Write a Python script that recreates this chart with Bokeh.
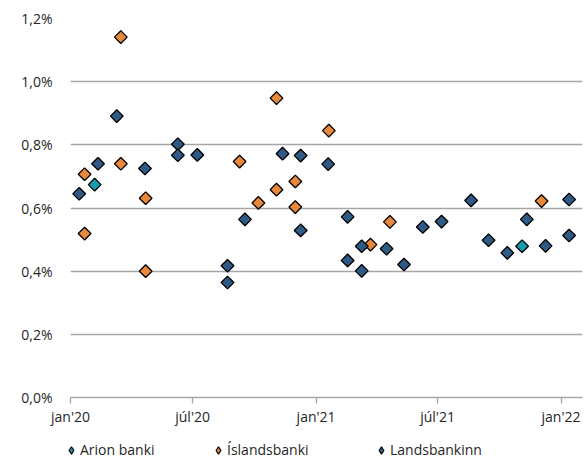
import numpy as np
import pandas as pd
from bokeh.plotting import figure
from bokeh.layouts import column
from bokeh.models import (ColumnDataSource, Legend, LegendItem, FixedTicker,
                          CustomJSTickFormatter, Range1d)
from bokeh.embed import file_html
from bokeh.resources import INLINE

# ---- data ----
arion_dates = ["2020-02-06", "2021-11-04"]
arion_vals = [0.674, 0.479]

isl_dates = ["2020-01-22", "2020-01-22", "2020-03-16", "2020-03-16", "2020-04-22", "2020-04-22",
             "2020-09-09", "2020-10-07", "2020-11-03", "2020-11-03", "2020-12-01", "2020-12-01",
             "2021-01-20", "2021-03-23", "2021-04-21", "2021-12-03"]
isl_vals = [0.707, 0.519, 1.141, 0.740, 0.631, 0.400,
            0.747, 0.616, 0.948, 0.658, 0.684, 0.603,
            0.845, 0.484, 0.556, 0.622]

lands_dates = ["2020-01-14", "2020-02-11", "2020-03-10", "2020-04-21", "2020-06-09", "2020-06-09",
               "2020-07-08", "2020-08-22", "2020-08-22", "2020-09-17", "2020-11-12", "2020-12-09",
               "2020-12-09", "2021-01-19", "2021-02-17", "2021-02-17", "2021-03-10", "2021-03-10",
               "2021-04-16", "2021-05-12", "2021-06-09", "2021-07-07", "2021-08-20", "2021-09-15",
               "2021-10-13", "2021-11-11", "2021-12-09", "2022-01-13", "2022-01-13"]
lands_vals = [0.645, 0.740, 0.891, 0.725, 0.802, 0.767,
              0.768, 0.417, 0.364, 0.564, 0.772, 0.766,
              0.529, 0.739, 0.572, 0.434, 0.479, 0.401,
              0.471, 0.421, 0.540, 0.557, 0.624, 0.498,
              0.458, 0.564, 0.480, 0.627, 0.513]

series_names = ["Arion banki", "Íslandsbanki", "Landsbankinn"]
series_colors = ["#1A9BAB", "#E8883B", "#2F5A84"]
x_ticks = ["2020-01-01", "2020-07-01", "2021-01-01", "2021-07-01", "2022-01-01"]
x_tick_labels = ["jan'20", "júl'20", "jan'21", "júl'21", "jan'22"]
y_ticks = [0.0, 0.2, 0.4, 0.6, 0.8, 1.0, 1.2]

FONT = "Open Sans"
TEXT_COLOR = "#262626"
GRID_COLOR = "#A6A6A6"

def ms(d):
    return pd.Timestamp(d).value / 1e6

x_start = ms("2020-01-01")
x_end = x_start + 763.0 * 86400000

p = figure(width=587, height=430, output_backend="svg", toolbar_location=None,
           x_range=Range1d(x_start, x_end), y_range=Range1d(0, 1.2),
           min_border_left=70, min_border_right=5, min_border_top=18, min_border_bottom=33)
p.outline_line_color = None
p.background_fill_color = "white"

for dates, vals, color in zip([arion_dates, isl_dates, lands_dates],
                              [arion_vals, isl_vals, lands_vals], series_colors):
    src = ColumnDataSource(dict(x=[ms(d) for d in dates], y=vals))
    p.scatter("x", "y", source=src, marker="square", angle=np.pi / 4, size=9,
              fill_color=color, line_color="black", line_width=1.3)

# x axis
tick_ms = [ms(d) for d in x_ticks]
p.xaxis.ticker = FixedTicker(ticks=tick_ms)
p.xaxis.major_label_overrides = {t: l for t, l in zip(tick_ms, x_tick_labels)}
p.xaxis.axis_line_color = GRID_COLOR
p.xaxis.axis_line_width = 1.3
p.xaxis.major_tick_line_color = GRID_COLOR
p.xaxis.major_tick_line_width = 1.3
p.xaxis.major_tick_in = 0
p.xaxis.major_tick_out = 6
p.xaxis.minor_tick_line_color = None
p.xaxis.major_label_standoff = 3
p.xaxis.major_label_text_font = FONT
p.xaxis.major_label_text_font_size = "14px"
p.xaxis.major_label_text_color = TEXT_COLOR

# y axis
p.yaxis.ticker = FixedTicker(ticks=y_ticks)
p.yaxis.formatter = CustomJSTickFormatter(code="return tick.toFixed(1).replace('.', ',') + '%';")
p.yaxis.axis_line_color = None
p.yaxis.major_tick_line_color = None
p.yaxis.minor_tick_line_color = None
p.yaxis.major_tick_out = 0
p.yaxis.major_tick_in = 0
p.yaxis.major_label_standoff = 18
p.yaxis.major_label_text_font = FONT
p.yaxis.major_label_text_font_size = "14px"
p.yaxis.major_label_text_color = TEXT_COLOR

p.xgrid.grid_line_color = None
p.ygrid.ticker = FixedTicker(ticks=y_ticks[1:])
p.ygrid.grid_line_color = GRID_COLOR
p.ygrid.grid_line_width = 1.3

# legend strip
lg = figure(width=587, height=36, output_backend="svg", toolbar_location=None,
            x_range=Range1d(0, 1), y_range=Range1d(0, 1),
            x_axis_location=None, y_axis_location=None,
            min_border_left=0, min_border_right=0, min_border_top=0, min_border_bottom=0)
lg.frame_align = False
lg.outline_line_color = None
lg.xgrid.visible = False
lg.ygrid.visible = False

legend_x = [62.0, 209.0, 372.0]
for name, color, lx in zip(series_names, series_colors, legend_x):
    dummy = lg.scatter(x=[-5], y=[-5], marker="diamond", size=9,
                       fill_color=color, line_color="black", line_width=1.2)
    leg = Legend(items=[LegendItem(label=name, renderers=[dummy])],
                 orientation="horizontal", location=(lx, 7),
                 label_text_font=FONT, label_text_font_size="14px", label_text_color=TEXT_COLOR,
                 glyph_width=18, glyph_height=18, label_standoff=0, spacing=0,
                 border_line_color=None, background_fill_alpha=0, padding=0, margin=0)
    lg.add_layout(leg, "center")

open("out.html", "w").write(file_html(column(p, lg, spacing=0), INLINE))
